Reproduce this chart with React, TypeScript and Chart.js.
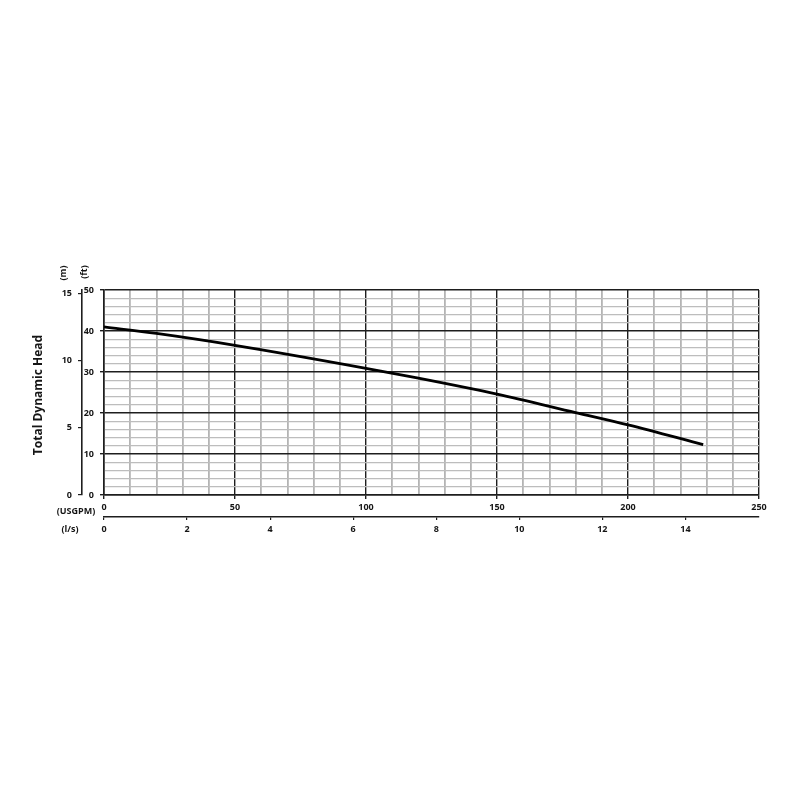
import React, { useEffect, useRef } from "react";
import { Chart, registerables } from "chart.js";

Chart.register(...registerables);

// Pump curve: flow (USGPM) vs total dynamic head (ft)
const flowUsgpm = [0, 20, 50, 100, 120, 150, 180, 200, 228.7];
const headFt = [41.0, 39.4, 36.5, 30.9, 28.5, 24.6, 20.1, 17.1, 12.3];

// Tick labels
const usgpmTickLabels = [0, 50, 100, 150, 200, 250];
const ftTickLabels = [0, 10, 20, 30, 40, 50];
const mTickLabels = [0, 5, 10, 15];
const lsTickLabels = [0, 2, 4, 6, 8, 10, 12, 14];

const USGPM_PER_LS = 15.8503;
const M_PER_FT = 0.3048;

const DARK = "#1e1e1e";
const GRAY_V = "#b4b4b4";
const GRAY_H = "#bdbdbd";
const TEXT = "#151515";
const FONT_FAMILY = "'Open Sans', 'Noto Sans', sans-serif";

const tickFont = { family: FONT_FAMILY, size: 9, weight: "bold" as const };

const textPlugin = {
  id: "extraText",
  afterDraw(chart: any) {
    const ctx = chart.ctx as CanvasRenderingContext2D;
    ctx.save();
    ctx.fillStyle = TEXT;
    ctx.textAlign = "center";
    ctx.textBaseline = "middle";

    const rot = (txt: string, x: number, y: number, font: string) => {
      ctx.save();
      ctx.translate(x, y);
      ctx.rotate(-Math.PI / 2);
      ctx.font = font;
      ctx.fillText(txt, 0, 0);
      ctx.restore();
    };
    const small = `bold 9px ${FONT_FAMILY}`;
    rot("(m)", 63, 273, small);
    rot("(ft)", 84, 272, small);
    rot("Total Dynamic Head", 39, 395, `bold 12px ${FONT_FAMILY}`);

    ctx.font = small;
    ctx.fillText("(USGPM)", 76, 511);
    ctx.fillText("(l/s)", 70, 529);
    ctx.restore();
  },
};

export default function App() {
  const canvasRef = useRef<HTMLCanvasElement | null>(null);

  useEffect(() => {
    if (!canvasRef.current) return;
    const isMajorX = (v: number) => v % 50 === 0;
    const isMajorY = (v: number) => v % 10 === 0;

    const chart = new Chart(canvasRef.current, {
      type: "line",
      data: {
        datasets: [
          {
            data: flowUsgpm.map((x, i) => ({ x, y: headFt[i] })),
            borderColor: "#000",
            borderWidth: 2.8,
            pointRadius: 0,
            cubicInterpolationMode: "monotone",
            fill: false,
            xAxisID: "x",
            yAxisID: "y",
          },
        ],
      },
      options: {
        animation: false,
        responsive: true,
        maintainAspectRatio: false,
        layout: { padding: { left: 50, right: 41, top: 290, bottom: 258 } },
        plugins: {
          legend: { display: false },
          tooltip: { enabled: false },
          title: { display: false },
        },
        scales: {
          x: {
            type: "linear",
            position: "bottom",
            weight: 0,
            min: 0,
            max: 250,
            ticks: {
              stepSize: 10,
              autoSkip: false,
              maxRotation: 0,
              padding: 3,
              color: TEXT,
              font: tickFont,
              callback: (v: any) => (usgpmTickLabels.includes(Number(v)) ? String(v) : ""),
            },
            grid: {
              color: (c: any) => (c.tick && isMajorX(c.tick.value) ? DARK : GRAY_V),
              lineWidth: (c: any) => (c.tick && isMajorX(c.tick.value) ? 1.4 : 1.8),
              tickColor: (c: any) => (c.tick && isMajorX(c.tick.value) ? DARK : "rgba(0,0,0,0)"),
              tickLength: 4,
            },
            border: { display: true, color: DARK, width: 1.6 },
            afterFit: (s: any) => {
              s.height = 22;
            },
          },
          xls: {
            type: "linear",
            position: "bottom",
            weight: 1,
            min: 0,
            max: 250 / USGPM_PER_LS,
            afterBuildTicks: (s: any) => {
              s.ticks = lsTickLabels.map((v) => ({ value: v }));
            },
            ticks: {
              autoSkip: false,
              maxRotation: 0,
              padding: 4,
              color: TEXT,
              font: tickFont,
              callback: (v: any) => String(v),
            },
            grid: {
              display: true,
              drawOnChartArea: false,
              drawTicks: true,
              tickLength: 3,
              color: DARK,
              lineWidth: 1.2,
            },
            border: { display: true, color: DARK, width: 1.6 },
            afterFit: (s: any) => {
              s.height = 25;
            },
          },
          y: {
            type: "linear",
            position: "left",
            weight: 0,
            min: 0,
            max: 50,
            ticks: {
              stepSize: 2,
              autoSkip: false,
              padding: 6,
              color: TEXT,
              font: tickFont,
              callback: (v: any) => (ftTickLabels.includes(Number(v)) ? String(v) : ""),
            },
            grid: {
              color: (c: any) => (c.tick && isMajorY(c.tick.value) ? DARK : GRAY_H),
              lineWidth: (c: any) => (c.tick && isMajorY(c.tick.value) ? 1.4 : 1.2),
              tickColor: (c: any) => (c.tick && isMajorY(c.tick.value) ? DARK : "rgba(0,0,0,0)"),
              tickLength: 4,
            },
            border: { display: true, color: DARK, width: 1.6 },
            afterFit: (s: any) => {
              s.width = 22;
            },
          },
          ym: {
            type: "linear",
            position: "left",
            weight: 1,
            min: 0,
            max: 50 * M_PER_FT,
            afterBuildTicks: (s: any) => {
              s.ticks = mTickLabels.map((v) => ({ value: v }));
            },
            ticks: {
              autoSkip: false,
              padding: 6,
              color: TEXT,
              font: tickFont,
              callback: (v: any) => String(v),
            },
            grid: {
              display: true,
              drawOnChartArea: false,
              drawTicks: true,
              tickLength: 4,
              color: DARK,
              lineWidth: 1.2,
            },
            border: { display: true, color: DARK, width: 1.6 },
            afterFit: (s: any) => {
              s.width = 32;
            },
          },
        },
      },
      plugins: [textPlugin],
    } as any);

    return () => chart.destroy();
  }, []);

  return (
    <div style={{ position: "absolute", left: 0, top: 0, width: 800, height: 800, background: "#fff" }}>
      <canvas ref={canvasRef} />
    </div>
  );
}
